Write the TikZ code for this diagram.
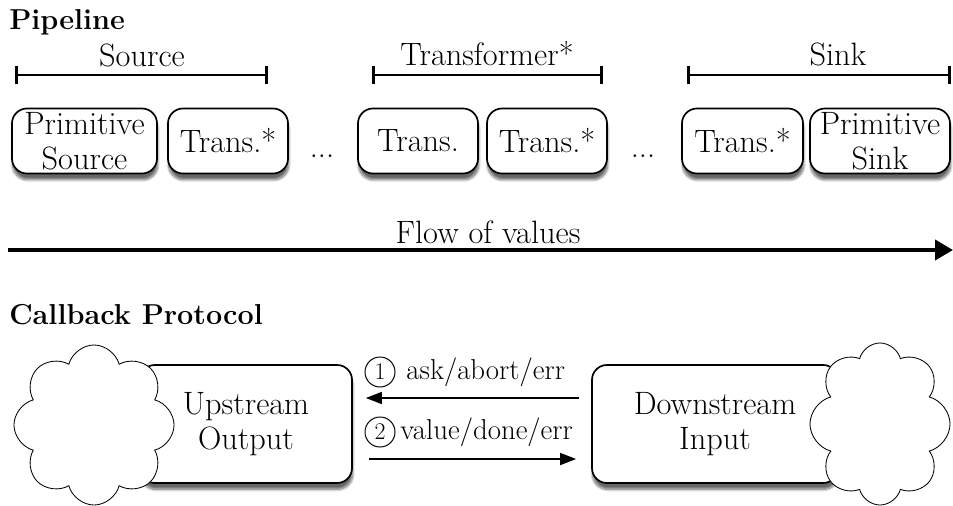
\documentclass[tikz,border=0pt]{standalone}
\usetikzlibrary{arrows.meta,positioning,shapes.symbols,shadows.blur}

\tikzset{
  txt/.style={font=\fontsize{23}{25}\selectfont},
  msglab/.style={font=\fontsize{20.5}{20.5}\selectfont},
  head/.style={font=\fontsize{20.5}{20.5}\selectfont\bfseries, anchor=west, inner sep=0pt},
  stage/.style={txt, draw, line width=1.2pt, rounded corners=0.375cm, fill=white,
    align=center, minimum height=1.625cm, inner sep=1pt,
    blur shadow={shadow xshift=0.5pt, shadow yshift=-4.5pt, shadow blur steps=10, shadow opacity=60}},
  span/.style={line width=2pt, {Bar[width=0.45cm]}-{Bar[width=0.45cm]}},
  puff/.style={cloud, cloud puffs=8, draw, line width=0.6pt, fill=white, inner sep=0pt},
  numcirc/.style={circle, draw, line width=0.7pt, minimum size=0.75cm, inner sep=0pt,
    font=\fontsize{17}{17}\selectfont},
  msg/.style={line width=1.2pt, -{Triangle[length=0.4cm, width=0.3cm]}},
}

\begin{document}
\begin{tikzpicture}[x=0.025cm,y=-0.025cm]
\useasboundingbox (0,0) rectangle (953,506);

\node[head] (pipe) at (9,22) {Pipeline};

% composite stages
\coordinate (srcL) at (15,75);
\coordinate (srcR) at (268,75);
\coordinate (trfL) at (372,75);
\coordinate (trfR) at (603,75);
\coordinate (snkL) at (687,75);
\coordinate (snkR) at (951,75);
\draw[span] (srcL) -- (srcR);
\draw[span] (trfL) -- (trfR);
\draw[span] (snkL) -- (snkR);
\node[txt] (srclab) at (142,55) {Source};
\node[txt] (trflab) at (487,54) {Transformer*};
\node[txt] (snklab) at (838,54) {Sink};

% primitive stages
\node[stage, minimum width=3.625cm] (psrc) at (84.5,141) {Primitive\\Source};
\node[stage, minimum width=3cm] (trA) at (228,141) {Trans.*};
\node[txt, anchor=base] (dotsA) at (322,157) {...};
\node[stage, minimum width=3cm] (trB) at (418,141) {Trans.};
\node[stage, minimum width=3cm] (trC) at (547,141) {Trans.*};
\node[txt, anchor=base] (dotsB) at (643,157) {...};
\node[stage, minimum width=3.025cm] (trD) at (742.5,141) {Trans.*};
\node[stage, minimum width=3.5cm] (psnk) at (880,141) {Primitive\\Sink};

\coordinate (flowL) at (8,250);
\coordinate (flowR) at (953,250);
\draw[line width=2.8pt, -{Triangle[length=0.45cm, width=0.5cm]}] (flowL) -- (flowR);
\node[txt] (flowlab) at (488,232) {Flow of values};

\node[head] (cb) at (9,315) {Callback Protocol};

% two ends of one callback
\node[stage, minimum width=5.3cm, minimum height=2.95cm] (up) at (246,424) {Upstream\\Output};
\node[puff, minimum width=4cm, minimum height=4cm] (upcloud) at (94,425) {};
\node[stage, minimum width=6.15cm, minimum height=2.95cm] (down) at (715,424) {Downstream\\Input};
\node[puff, minimum width=3.5cm, minimum height=4.05cm] (downcloud) at (880,424) {};

\draw[msg, shorten <=0.3cm, shorten >=0.325cm] ([yshift=0.65cm]down.west) -- ([yshift=0.65cm]up.east);
\draw[msg, shorten <=0.4cm, shorten >=0.375cm] ([yshift=-0.875cm]up.east) -- ([yshift=-0.875cm]down.west);

\node[numcirc] (one) at (380,372) {1};
\node[msglab, right=0.15cm of one] (ask) {ask/abort/err};
\node[numcirc] (two) at (380,432) {2};
\node[msglab, right=0cm of two] (val) {value/done/err};
\end{tikzpicture}
\end{document}
